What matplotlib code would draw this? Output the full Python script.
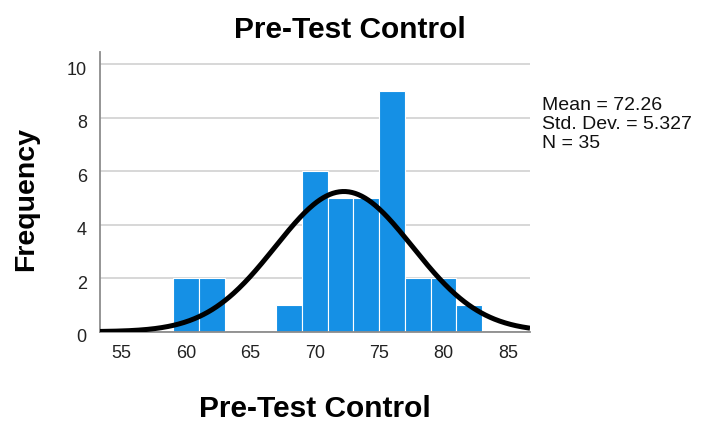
import numpy as np
import matplotlib
matplotlib.use('Agg')
import matplotlib.pyplot as plt
import matplotlib.transforms as mtransforms

plt.rcParams['font.family'] = ['Liberation Sans', 'DejaVu Sans']

# histogram bins (width 2) and counts
bin_edges = [59, 61, 63, 65, 67, 69, 71, 73, 75, 77, 79, 81, 83]
counts = [2, 2, 0, 0, 1, 6, 5, 5, 9, 2, 2, 1]

# summary stats shown on the chart
mean = 72.26
std_dev = 5.327
n = 35

xticks = [55, 60, 65, 70, 75, 80, 85]
yticks = [0, 2, 4, 6, 8, 10]

W, H = 702, 423
fig = plt.figure(figsize=(W / 100, H / 100), dpi=100)
ax = fig.add_axes([100 / W, 91.3 / H, 430 / W, 280 / H])

# bars
lefts = bin_edges[:-1]
widths = np.diff(bin_edges)
ax.bar(lefts, counts, width=widths, align='edge', color='#1590e5',
       edgecolor='white', linewidth=0.8, zorder=2)

# normal curve scaled to counts
xmin, xmax = 53.31, 86.72
xs = np.linspace(xmin, xmax, 400)
bw = widths[0]
ys = n * bw / (std_dev * np.sqrt(2 * np.pi)) * np.exp(-0.5 * ((xs - mean) / std_dev) ** 2)
ax.plot(xs, ys, color='black', linewidth=3.6, zorder=3, solid_capstyle='butt')

ax.set_xlim(xmin, xmax)
ax.set_ylim(0, 10.47)
ax.set_xticks(xticks)
ax.set_yticks(yticks)
ax.yaxis.grid(True, color='#d4d4d4', linewidth=1.3, zorder=0)
ax.set_axisbelow(True)
ax.tick_params(length=0, labelsize=13, pad=9.5, labelcolor='#222222')
off = mtransforms.ScaledTranslation(0, -4 / 100, fig.dpi_scale_trans)
for lab in ax.get_yticklabels():
    lab.set_transform(lab.get_transform() + off)

for side in ['top', 'right']:
    ax.spines[side].set_visible(False)
for side in ['left', 'bottom']:
    ax.spines[side].set_color('#8c8c8c')
    ax.spines[side].set_linewidth(1.3)

# titles / labels
fig.text(349.5 / W, 1 - 38.3 / H, 'Pre-Test Control', ha='center', va='baseline',
         fontsize=21.5, fontweight='bold')
fig.text(315 / W, 1 - 416.5 / H, 'Pre-Test Control', ha='center', va='baseline',
         fontsize=21.5, fontweight='bold')
fig.text(33.3 / W, 1 - 198.5 / H, 'Frequency', ha='center', va='baseline',
         rotation=90, rotation_mode='anchor', fontsize=20.5, fontweight='bold')

# stats box
stats = [f'Mean = {mean:.2f}', f'Std. Dev. = {std_dev:.3f}', f'N = {n}']
for i, s in enumerate(stats):
    fig.text(542 / W, 1 - (109.5 + 19.5 * i) / H, s, ha='left', va='baseline',
             fontsize=14, color='#111111')

plt.savefig('out.png', dpi=100)
